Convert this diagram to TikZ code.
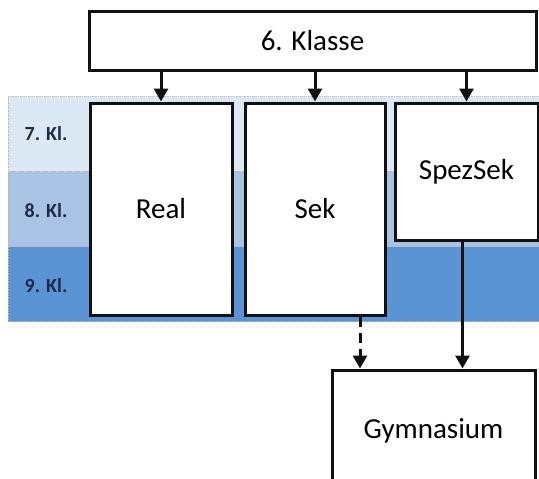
\documentclass[tikz,border=0pt]{standalone}
\usepackage{fontspec}
\setmainfont{Carlito}
\usetikzlibrary{arrows.meta,positioning}
\definecolor{rowlight}{HTML}{DDE8F5}
\definecolor{rowmid}{HTML}{A9C3E5}
\definecolor{rowdark}{HTML}{5A94D4}
\definecolor{labelnavy}{HTML}{1E2A48}
\definecolor{ink}{HTML}{111111}
\tikzset{
  schoolbox/.style={
    draw=ink,
    fill=white,
    line width=3pt,
    align=center,
    inner sep=0pt,
    font=\fontsize{29}{33}\selectfont
  },
  band/.style={
    draw=gray!55,
    line width=0.6pt,
    densely dotted,
    inner sep=0pt,
    minimum width=531pt,
    minimum height=75pt
  },
  rowlabel/.style={
    font=\bfseries\fontsize{20}{24}\selectfont,
    text=labelnavy
  },
  arrow/.style={
    -{Triangle[length=13pt,width=14pt]},
    draw=ink,
    line width=3pt
  }
}
\begin{document}
\begin{tikzpicture}[x=1pt,y=-1pt]
  \useasboundingbox[fill=white] (0,0) rectangle (539,479);

  % grade bands
  \node[band, fill=rowlight] (row7) at (273.5,134) {};
  \node[band, fill=rowmid] (row8) at (273.5,209) {};
  \node[band, fill=rowdark] (row9) at (273.5,284) {};
  \node[rowlabel] (kl7) at (46,134) {7. Kl.};
  \node[rowlabel] (kl8) at (46,211) {8. Kl.};
  \node[rowlabel] (kl9) at (46,286) {9. Kl.};

  \node[schoolbox, minimum width=447pt, minimum height=59pt] (klasse) at (312.5,40.5)
    {6. Klasse};

  \node[schoolbox, minimum width=142pt, minimum height=212pt] (real) at (161,209)
    {Real};
  \node[schoolbox, minimum width=140pt, minimum height=212pt] (sek) at (315,209)
    {Sek};
  \node[schoolbox, minimum width=143pt, minimum height=137pt] (spezsek) at (466.5,171.5)
    {SpezSek};

  \node[schoolbox, minimum width=203pt, minimum height=150pt] (gym) at (433.5,445)
    {\raisebox{32pt}{Gymnasium}};

  \draw[arrow] (real.north |- klasse.south) -- (real.north);
  \draw[arrow] (sek.north |- klasse.south) -- (sek.north);
  \draw[arrow] (spezsek.north |- klasse.south) -- (spezsek.north);

  \draw[arrow, dash pattern=on 10pt off 6pt] ([xshift=45pt]sek.south) -- ([xshift=45pt]sek.south |- gym.north);
  \draw[arrow] ([xshift=-4pt]spezsek.south) -- ([xshift=-4pt]spezsek.south |- gym.north);
\end{tikzpicture}
\end{document}
